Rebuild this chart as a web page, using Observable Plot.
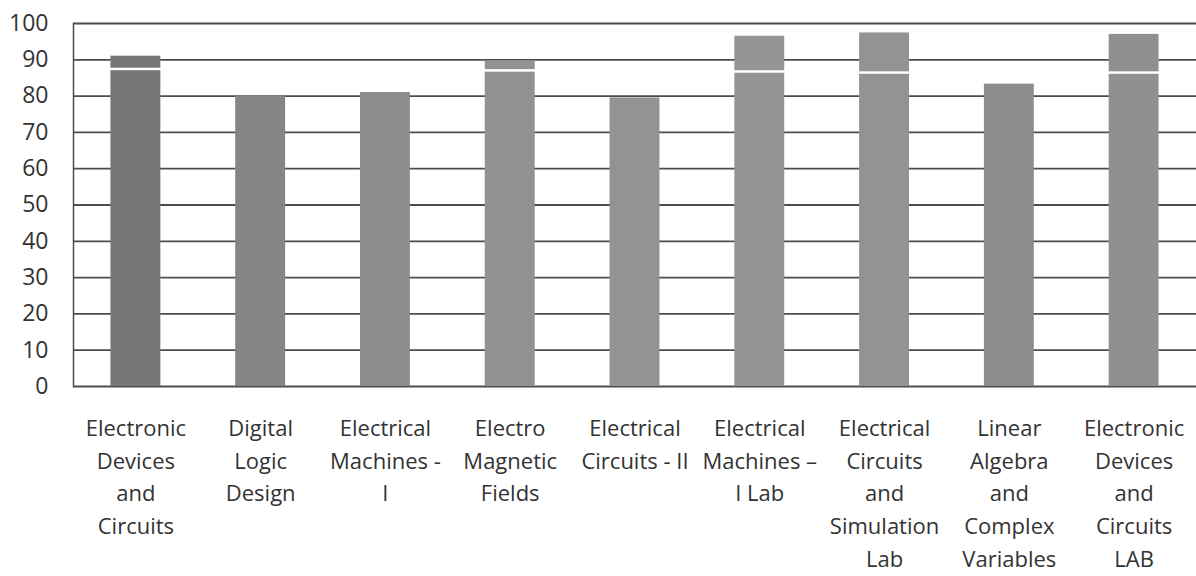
<!DOCTYPE html>
<html>
<head>
<meta charset="utf-8">
<script src="https://cdn.jsdelivr.net/npm/d3@7"></script>
<script src="https://cdn.jsdelivr.net/npm/@observablehq/plot@0.6"></script>
<style>
  html, body { margin: 0; padding: 0; background: #fff; }
  #chart { width: 1196px; height: 576px; overflow: hidden; }
</style>
</head>
<body>
<div id="chart"></div>
<script>
const subjects = [
  "Electronic\nDevices\nand\nCircuits",
  "Digital\nLogic\nDesign",
  "Electrical\nMachines -\nI",
  "Electro\nMagnetic\nFields",
  "Electrical\nCircuits - II",
  "Electrical\nMachines –\nI Lab",
  "Electrical\nCircuits\nand\nSimulation\nLab",
  "Linear\nAlgebra\nand\nComplex\nVariables",
  "Electronic\nDevices\nand\nCircuits\nLAB"
];
const lowerValues = [87, 80, 81, 86.6, 79.5, 86.3, 86, 83.3, 86];
const totalValues = [91, 80, 81, 89.7, 79.5, 96.5, 97.4, 83.3, 97];
const barColors = ["#777777", "#858585", "#8c8c8c", "#929292", "#939393", "#959595", "#939393", "#8c8c8c", "#909090"];
const yTicks = [0, 10, 20, 30, 40, 50, 60, 70, 80, 90, 100];

const rows = subjects.map((s, i) => ({
  subject: s, lower: lowerValues[i], total: totalValues[i], color: barColors[i]
}));
const uppers = rows.filter(d => d.total > d.lower);

const chart = Plot.plot({
  width: 1196,
  height: 576,
  marginLeft: 73,
  marginRight: 0,
  marginTop: 23,
  marginBottom: 190,
  style: { fontFamily: "'Open Sans', sans-serif", background: "#fff", color: "#333" },
  x: { domain: subjects, paddingInner: 0.6, paddingOuter: 0.3, round: false, label: null },
  y: { domain: [0, 100], ticks: yTicks, label: null },
  marks: [
    Plot.ruleY(yTicks, { stroke: "#4d4d4d", strokeWidth: 1.8 }),
    Plot.frame({ anchor: "left", stroke: "#4d4d4d", strokeWidth: 1.5 }),
    Plot.barY(rows, { x: "subject", y: "lower", fill: "color" }),
    Plot.barY(uppers, { x: "subject", y1: "lower", y2: "total", fill: "color", insetBottom: 2.5 }),
    Plot.axisY({ ticks: yTicks, tickSize: 0, tickPadding: 25, fontSize: 23, fill: "#333", label: null }),
    Plot.axisX({ tickSize: 0, tickPadding: 26, fontSize: 22, lineHeight: 1.49, fill: "#333", lineAnchor: "top", label: null })
  ]
});
document.getElementById("chart").appendChild(chart);
</script>
</body>
</html>
